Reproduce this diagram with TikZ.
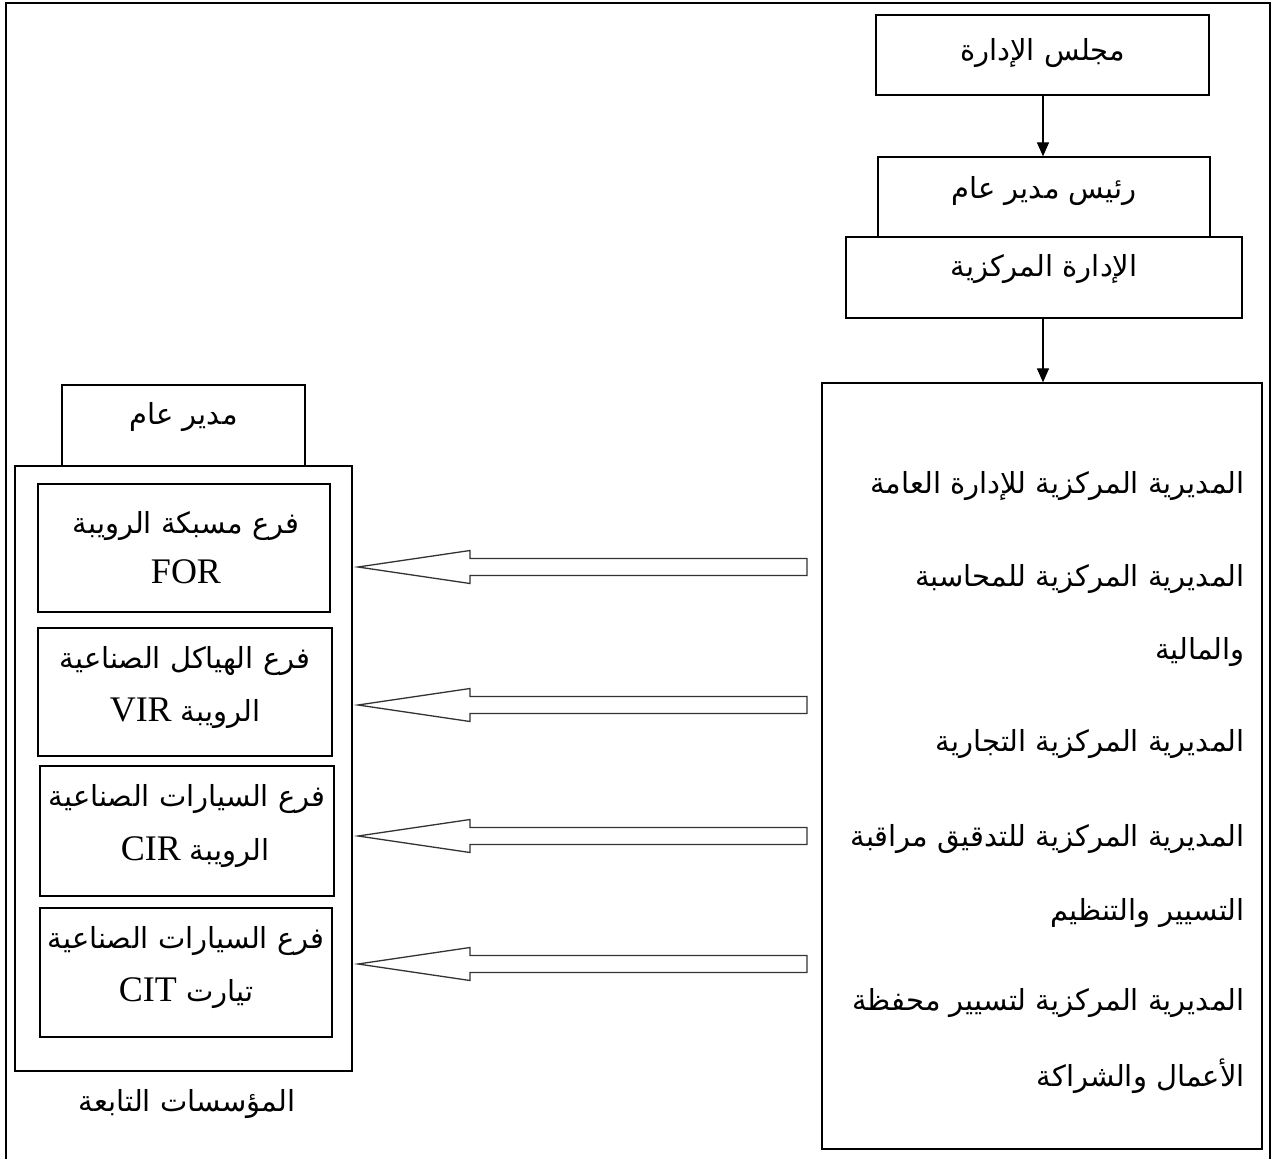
\documentclass[tikz,border=0pt]{standalone}
\usepackage{fontspec}
\setmainfont{Liberation Serif}
\newfontfamily\arabicfont[Script=Arabic]{DejaVu Sans}
\newfontfamily\latinfont{Liberation Serif}
\TeXXeTstate=1
\usetikzlibrary{arrows.meta}
\newcommand\ARtxt[1]{{\arabicfont\beginR #1\endR}}
\newcommand\LTtxt[1]{\beginL{\latinfont\fontsize{36}{40}\selectfont #1}\endL}
\tikzset{
  box/.style={draw, line width=1.3pt, inner sep=0pt, fill=white},
  txt/.style={inner sep=0pt, font=\fontsize{29}{35}\selectfont},
  rtxt/.style={txt, anchor=east},
  flow/.style={line width=1.2pt, -{Triangle[length=14pt,width=12pt]}},
  blockarrow/.style={draw=black!80, line width=1.3pt, fill=white, line join=miter},
}
\begin{document}
\begin{tikzpicture}[x=1pt,y=-1pt]
\useasboundingbox (0,0) rectangle (1272,1159);
% outer frame (open at bottom)
\draw[line width=2.5pt] (6,1159) -- (6,3) -- (1270,3) -- (1270,1159);

% top chain
\node[box, minimum width=333pt, minimum height=80pt] (b1) at (1042.5,55) {};
\node[txt] (t1) at (1042.5,53) {\ARtxt{مجلس الإدارة}};
\node[box, minimum width=332pt, minimum height=80pt] (b2) at (1044,197) {};
\node[txt] (t2) at (1044,191) {\ARtxt{رئيس مدير عام}};
\node[box, minimum width=396pt, minimum height=81pt] (b3) at (1044,277.5) {};
\node[txt] (t3) at (1044,269) {\ARtxt{الإدارة المركزية}};
\node[box, minimum width=440pt, minimum height=766pt] (rb) at (1042,766) {};
\draw[flow] (b1.south -| 1043,0) -- (b2.north -| 1043,0);
\draw[flow] (b3.south -| 1043,0) -- (rb.north -| 1043,0);

% right text
\node[rtxt] (r1) at (1245,486) {\ARtxt{المديرية المركزية للإدارة العامة}};
\node[rtxt] (r2) at (1245,579) {\ARtxt{المديرية المركزية للمحاسبة}};
\node[rtxt] (r3) at (1245,652) {\ARtxt{والمالية}};
\node[rtxt] (r4) at (1245,744) {\ARtxt{المديرية المركزية التجارية}};
\node[rtxt] (r5) at (1245,839) {\ARtxt{المديرية المركزية للتدقيق مراقبة}};
\node[rtxt] (r6) at (1245,913) {\ARtxt{التسيير والتنظيم}};
\node[rtxt] (r7) at (1245,1003) {\ARtxt{المديرية المركزية لتسيير محفظة}};
\node[rtxt] (r8) at (1245,1076) {\ARtxt{الأعمال والشراكة}};

% left side
\node[box, minimum width=243pt, minimum height=81pt] (dg) at (183.5,425.5) {};
\node[txt] (tdg) at (183.5,417) {\ARtxt{مدير عام}};
\node[box, minimum width=337pt, minimum height=605pt] (lb) at (183.5,768.5) {};
\node[txt] (tlb) at (187,1104) {\ARtxt{المؤسسات التابعة}};

\node[box, minimum width=292pt, minimum height=128pt] (s1) at (184,548) {};
\node[txt] (s1a) at (186,526) {\ARtxt{فرع مسبكة الرويبة}};
\node[txt] (s1b) at (186,572) {\LTtxt{FOR}};

\node[box, minimum width=294pt, minimum height=128pt] (s2) at (185,692) {};
\node[txt] (s2a) at (185,661) {\ARtxt{فرع الهياكل الصناعية}};
\node[txt] (s2b) at (185,713) {\ARtxt{الرويبة \LTtxt{VIR}}};

\node[box, minimum width=294pt, minimum height=130pt] (s3) at (187,831) {};
\node[txt] (s3a) at (187,799) {\ARtxt{فرع السيارات الصناعية}};
\node[txt] (s3b) at (195,852) {\ARtxt{الرويبة \LTtxt{CIR}}};

\node[box, minimum width=292pt, minimum height=129pt] (s4) at (186,972.5) {};
\node[txt] (s4a) at (186,941) {\ARtxt{فرع السيارات الصناعية}};
\node[txt] (s4b) at (186,993) {\ARtxt{تيارت \LTtxt{CIT}}};

% block arrows
\foreach \c/\n in {567/1,705/2,836/3,964/4}{
  \coordinate (tip\n) at (358,\c);
  \draw[blockarrow] (tip\n) -- (470,\c-16.5) -- (470,\c-8.5) -- (807,\c-8.5)
     -- (807,\c+8.5) -- (470,\c+8.5) -- (470,\c+16.5) -- cycle;
}
\end{tikzpicture}
\end{document}
